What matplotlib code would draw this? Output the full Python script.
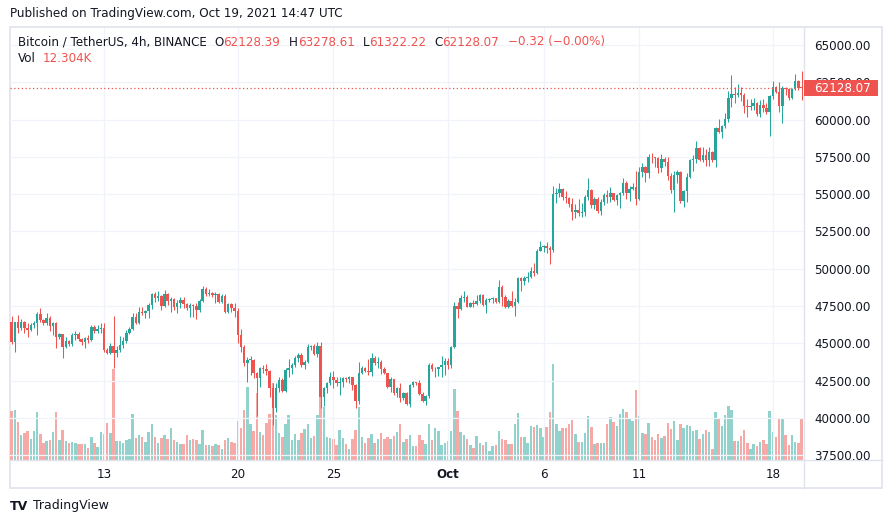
import matplotlib
matplotlib.use("Agg")
import matplotlib.pyplot as plt
import matplotlib.dates as mdates
from matplotlib.patches import Rectangle
from matplotlib.lines import Line2D
import pandas as pd

# Taille de la figure (pixels)
W, H = 892, 523

# Données : bougies 4h BTC/USDT, à partir du 8 sept. 2021 04:00 UTC
start = "2021-09-08 04:00"
first_open = 46404

closes = [
    45063, 46404, 46047, 46450, 46000, 45890, 46220, 46330, 46964, 46560,
    46337, 46670, 46150, 46337, 45398, 45622, 44772, 45152, 44950, 45555,
    45600, 45264, 45108, 45330, 45220, 46110, 45843, 45930, 46000, 44548,
    44370, 44840, 44325, 44550, 44884, 45152, 45711, 45957, 46784, 46382,
    47075, 47008, 47165, 47567, 48305, 48014, 48170, 47522, 48305, 47858,
    47950, 47410, 47724, 47900, 47634, 47343, 47567, 47500, 47232, 47858,
    48618, 48305, 48394, 48260, 48330, 47790, 48170, 47120, 47634, 47343,
    47187, 45555, 44772, 43699, 43870, 43900, 42983, 42648, 43319, 43270,
    43150, 41977, 40680, 41977, 42536, 41820, 43207, 43320, 43543, 44034,
    44213, 43543, 43766, 44772, 44817, 44280, 44817, 41418, 41977, 42357,
    42760, 42536, 42313, 42424, 42648, 42580, 42715, 42200, 41150, 42983,
    43363, 43163, 43073, 43990, 43654, 43770, 43251, 42983, 42089, 42581,
    41642, 42000, 41307, 41642, 40926, 42200, 42424, 42313, 41597, 41150,
    41485, 43543, 43251, 43300, 43400, 43543, 43810, 43541, 44727, 47500,
    47320, 48058, 48125, 47455, 47723, 47634, 47835, 48237, 47567, 47902,
    47946, 48013, 47790, 48796, 48125, 47410, 47835, 47500, 47745, 49400,
    49200, 49355, 49466, 49870, 49735, 51211, 51434, 51524, 51367, 51256,
    55012, 55057, 55325, 54788, 54720, 54340, 53827, 53938, 53760, 53827,
    54833, 55280, 54273, 54676, 53893, 54497, 54945, 54788, 55057, 54610,
    54945, 55100, 55727, 55100, 55325, 55500, 54654, 56510, 56800, 56398,
    57516, 57471, 57400, 56734, 57337, 57180, 56218, 55279, 56285, 56500,
    54563, 55212, 56173, 57291, 57336, 58074, 57291, 57627, 57291, 57850,
    57291, 59415, 59191, 59572, 60019, 61428, 61718, 61651, 61807, 61651,
    60913, 60824, 60913, 61137, 60377, 60980, 60757, 60533, 61584, 62165,
    61875, 60913, 62098, 62030, 61428, 62030, 62613, 62128.39, 62128.07,
]

highs = [
    46829, 46450, 46896, 46600, 46500, 46330, 46380, 46500, 47120, 47343,
    46600, 47008, 46800, 46450, 46400, 45700, 45650, 45450, 45200, 45670,
    45800, 45730, 45370, 45450, 45555, 46200, 46226, 46226, 46376, 46376,
    44660, 45000, 46829, 44800, 45487, 45440, 45890, 46110, 47050, 47000,
    47410, 47410, 47230, 47680, 48394, 48460, 48506, 48240, 48573, 48350,
    48130, 48020, 47900, 48130, 48130, 47720, 47680, 47640, 47680, 47950,
    48842, 48800, 48620, 48460, 48460, 48370, 48300, 48305, 47680, 47680,
    47680, 47340, 45990, 44880, 44100, 44150, 43920, 43090, 43390, 43540,
    43610, 43200, 42310, 42350, 42760, 42650, 43320, 43943, 43650, 44145,
    44370, 44325, 43900, 44930, 44884, 44930, 45108, 45108, 42090, 42424,
    43095, 43140, 42760, 42714, 42760, 42760, 42800, 42760, 42270, 43766,
    43475, 43430, 43923, 44324, 44145, 44057, 43878, 43430, 43000, 42760,
    42626, 42045, 42313, 41754, 41754, 42270, 42490, 42424, 42530, 41754,
    41530, 43654, 43700, 43430, 43430, 44145, 43990, 44000, 44850, 47791,
    47791, 48237, 48528, 48237, 47790, 47900, 48237, 48300, 48300, 48013,
    48013, 48080, 48058, 49243, 48900, 48237, 48000, 48528, 48014, 49466,
    49466, 49510, 49800, 50138, 50360, 51300, 51882, 51590, 51815, 51524,
    55549, 55420, 55772, 55400, 55235, 54833, 54721, 54340, 54654, 54385,
    54945, 56063, 55325, 54833, 54833, 54654, 55057, 55280, 55503, 55100,
    55012, 55170, 56063, 55906, 55550, 55727, 56577, 56800, 57069, 56890,
    57695, 57784, 57516, 57471, 57695, 57471, 57471, 56398, 56576, 56621,
    56576, 55279, 56397, 57336, 57626, 58588, 58140, 58140, 58000, 58140,
    57917, 59527, 60019, 59639, 60422, 61941, 62993, 62166, 62389, 62166,
    61807, 61360, 61360, 61428, 61204, 61316, 61360, 61092, 61651, 62613,
    62255, 62546, 62255, 62210, 62100, 62098, 63060, 62680, 63278.61,
]

lows = [
    44929, 44392, 45666, 45900, 45670, 45440, 45800, 46000, 45555, 46400,
    46200, 46200, 45800, 45555, 44660, 45300, 44034, 44660, 44800, 44840,
    45220, 45150, 44880, 44700, 44990, 45170, 45666, 45666, 45666, 44392,
    44300, 44300, 43319, 44100, 44400, 44700, 45000, 45600, 45890, 46270,
    46300, 46870, 46670, 46670, 47300, 47790, 47860, 47232, 47450, 47570,
    47120, 47232, 47008, 47340, 47340, 47230, 46740, 46740, 46660, 47120,
    47790, 48170, 48170, 48130, 47680, 47700, 47680, 47050, 47000, 47120,
    46780, 44996, 44436, 43500, 42424, 42870, 42648, 40121, 42090, 43000,
    42870, 41418, 39518, 40400, 41760, 41750, 41750, 42760, 42940, 43380,
    43766, 43380, 43250, 43650, 44550, 44230, 44100, 40635, 40800, 41640,
    42200, 41977, 42130, 41530, 42090, 42424, 42313, 41866, 40636, 40926,
    42940, 43095, 42870, 42800, 43540, 43320, 42940, 42920, 41977, 41754,
    41530, 41418, 41083, 41195, 40860, 40700, 42045, 42180, 41530, 41083,
    40860, 41307, 43140, 42760, 42800, 42760, 42870, 43250, 43318, 44650,
    46716, 47200, 47790, 47410, 47410, 47410, 47567, 47723, 47500, 47052,
    47790, 47723, 47723, 47723, 47500, 47343, 47343, 47410, 46850, 47680,
    48528, 48908, 49130, 49355, 49510, 49645, 51167, 51145, 51033, 50317,
    51145, 54430, 54833, 54609, 54385, 54162, 53268, 53380, 53536, 53500,
    53536, 54609, 54050, 53983, 53760, 53603, 54273, 54430, 54497, 54542,
    54273, 54050, 54945, 54654, 54564, 55280, 54273, 54600, 56130, 55840,
    56063, 57114, 56800, 56398, 56510, 56890, 55950, 55100, 53825, 55770,
    54429, 54116, 54496, 56061, 56576, 57112, 57246, 57180, 56889, 56889,
    57180, 56845, 59080, 58744, 59415, 59863, 60824, 61092, 61539, 61271,
    60422, 60153, 60645, 60645, 60243, 60198, 60533, 60377, 58900, 61360,
    61763, 60534, 59795, 61651, 61300, 61360, 61990, 61987, 61322.22,
]

# Volume en milliers de BTC
volumes = [
    14.7, 15.0, 11.4, 7.6, 8.1, 8.7, 6.3, 8.7, 14.4, 7.8,
    5.1, 5.7, 6.0, 8.4, 14.4, 6.0, 9.0, 5.7, 5.1, 5.4,
    5.1, 4.8, 4.8, 4.8, 3.6, 6.9, 5.1, 3.9, 8.4, 7.8,
    11.1, 8.1, 27.2, 5.7, 5.7, 5.1, 6.0, 6.3, 13.8, 6.6,
    7.5, 6.9, 5.4, 8.4, 10.8, 6.9, 5.1, 6.6, 7.5, 6.3,
    9.6, 6.0, 5.4, 4.8, 4.8, 7.5, 6.0, 6.3, 6.0, 4.8,
    9.0, 4.5, 4.5, 4.2, 4.8, 4.5, 3.3, 6.0, 6.6, 5.4,
    5.1, 11.7, 9.6, 15.0, 21.9, 10.8, 8.7, 20.0, 8.4, 7.5,
    11.1, 13.8, 23.0, 13.5, 8.1, 6.9, 10.8, 13.5, 6.0, 7.8,
    6.0, 8.1, 9.3, 10.8, 6.6, 7.2, 13.5, 20.0, 16.0, 6.9,
    6.6, 6.3, 4.5, 9.0, 6.6, 4.8, 3.3, 6.3, 9.0, 16.0,
    6.9, 5.1, 6.6, 7.8, 5.1, 6.3, 8.1, 6.3, 6.9, 6.3,
    7.2, 8.4, 10.8, 5.4, 6.3, 7.5, 4.2, 4.2, 7.5, 6.0,
    4.8, 10.8, 6.0, 9.6, 8.7, 4.5, 5.0, 5.7, 8.8, 21.3,
    14.8, 8.4, 7.5, 6.4, 4.5, 3.7, 7.2, 5.1, 4.5, 5.4,
    2.7, 4.2, 4.5, 8.7, 6.3, 6.0, 4.8, 4.8, 10.8, 14.1,
    6.9, 6.9, 5.1, 10.2, 9.9, 10.5, 9.6, 6.9, 9.9, 14.4,
    28.8, 10.8, 8.7, 9.6, 9.6, 10.8, 12.0, 7.8, 5.4, 5.4,
    8.1, 13.2, 9.9, 4.8, 5.1, 5.1, 5.1, 10.8, 12.9, 11.4,
    10.2, 13.8, 15.3, 14.4, 12.6, 11.7, 21.0, 13.2, 8.1, 7.8,
    11.1, 6.9, 6.0, 7.8, 6.6, 7.2, 11.1, 9.3, 11.7, 6.0,
    10.8, 9.6, 10.5, 10.2, 8.7, 9.0, 6.3, 7.8, 9.0, 8.4,
    3.3, 14.4, 12.3, 10.2, 13.5, 16.2, 15.0, 5.7, 5.7, 7.2,
    9.0, 5.1, 3.3, 4.8, 4.2, 5.4, 6.0, 4.8, 14.7, 8.4,
    6.9, 12.3, 12.6, 7.5, 4.5, 7.5, 5.4, 5.1, 12.304,
]

price_ticks = [37500, 40000, 42500, 45000, 47500, 50000, 52500,
               55000, 57500, 60000, 62500, 65000]
date_ticks = ["2021-09-13", "2021-09-20", "2021-09-25", "2021-10-01",
              "2021-10-06", "2021-10-11", "2021-10-18"]
date_labels = ["13", "20", "25", "Oct", "6", "11", "18"]

# Couleurs TradingView
UP = "#26a69a"
DOWN = "#ef5350"
UP_VOL = "#92d2cc"
DOWN_VOL = "#f7a9a7"
TXT = "#131722"
GRID = "#f0f3fa"
BORDER = "#e0e3eb"

times = pd.date_range(start, periods=len(closes), freq="4h")
xs = mdates.date2num(times)
opens = [first_open] + closes[:-1]
up = [c >= o for o, c in zip(opens, closes)]


def fx(x):
    return x / W


def fy(y):
    return 1 - y / H


# %% Figure
fig = plt.figure(figsize=(W / 100, H / 100), dpi=100)
fig.patch.set_facecolor("white")

rect = [fx(10), fy(460), fx(804) - fx(10), fy(28) - fy(460)]
axv = fig.add_axes(rect, zorder=1)
ax = fig.add_axes(rect, zorder=2, sharex=axv)
ax.patch.set_alpha(0)

# Echelle : 19.11 px par jour, 67.07 USD par px
x13 = mdates.date2num(pd.Timestamp("2021-09-13"))
ax.set_xlim(x13 - 94 / 19.11, x13 + 700 / 19.11)
ax.set_ylim(37171, 66145)
axv.set_ylim(0, 432 * 0.3)
axv.set_axis_off()

# Grille
for p in price_ticks:
    ax.axhline(p, color=GRID, lw=0.9, zorder=0)
for d in date_ticks:
    ax.axvline(mdates.date2num(pd.Timestamp(d)), color=GRID, lw=0.9, zorder=0)

# Volume
axv.bar(xs, volumes, width=0.13, color=[UP_VOL if u else DOWN_VOL for u in up],
        linewidth=0)

# Bougies
colors = [UP if u else DOWN for u in up]
ax.vlines(xs, lows, highs, colors=colors, linewidth=0.75, zorder=3)
bottoms = [min(o, c) for o, c in zip(opens, closes)]
heights = [max(abs(c - o), 50) for o, c in zip(opens, closes)]
ax.bar(xs, heights, bottom=bottoms, width=0.13, color=colors, linewidth=0, zorder=4)

# Ligne du dernier prix
last = closes[-1]
ax.axhline(last, color=DOWN, lw=0.9, ls=(0, (1, 2)), zorder=5)

# Axes
for s in ax.spines.values():
    s.set_visible(False)
ax.yaxis.tick_right()
ax.set_yticks(price_ticks)
ax.set_yticklabels([f"{p:.2f}" for p in price_ticks])
ax.tick_params(axis="y", length=0, pad=7.2, labelsize=8.6, labelcolor=TXT)
ax.set_xticks([mdates.date2num(pd.Timestamp(d)) for d in date_ticks])
ax.set_xticklabels(date_labels)
ax.tick_params(axis="x", length=0, pad=5.5, labelsize=8.6, labelcolor=TXT)
for lab in ax.get_xticklabels():
    if lab.get_text() == "Oct":
        lab.set_fontweight("bold")

# Cadre
fig.add_artist(Rectangle((fx(10), fy(488)), fx(882) - fx(10), fy(27) - fy(488),
                         transform=fig.transFigure, fill=False, edgecolor=BORDER,
                         lw=1.2, zorder=0))
fig.add_artist(Line2D([fx(804), fx(804)], [fy(488), fy(27)], color=BORDER, lw=1))
fig.add_artist(Line2D([fx(10), fx(882)], [fy(460), fy(460)], color=BORDER, lw=1))

# Etiquette du dernier prix
fig.add_artist(Rectangle((fx(804), fy(96)), fx(878) - fx(804), fy(80) - fy(96),
                         transform=fig.transFigure, facecolor=DOWN, edgecolor="none",
                         zorder=10))
fig.text(fx(814), fy(88), f"{last:.2f}", color="white", fontsize=8.6,
         va="center", ha="left", zorder=11)

# Textes
fig.text(fx(10), fy(14), "Published on TradingView.com, Oct 19, 2021 14:47 UTC",
         fontsize=8.65, color=TXT, va="center")

renderer = fig.canvas.get_renderer()


def ligne(pieces, x, y, size=8.6):
    # pieces : (texte, couleur, espace avant en px)
    for t, c, gap in pieces:
        x += gap
        txt = fig.text(fx(x), fy(y), t, fontsize=size, color=c, va="center")
        x += txt.get_window_extent(renderer).width


ligne([("Bitcoin / TetherUS, 4h, BINANCE", TXT, 0),
       ("O", TXT, 7.5), ("62128.39", DOWN, 0),
       ("H", TXT, 8.5), ("63278.61", DOWN, 0),
       ("L", TXT, 8), ("61322.22", DOWN, 0),
       ("C", TXT, 8), ("62128.07", DOWN, 0),
       ("\u22120.32 (\u22120.00%)", DOWN, 9)], 18, 42)
ligne([("Vol", TXT, 0), ("12.304K", DOWN, 7)], 18, 59)

# Pied de page
fig.text(fx(10), fy(506), "TV", fontsize=9, fontweight="bold", color=TXT, va="center")
fig.text(fx(33), fy(506), "TradingView", fontsize=9, color=TXT, va="center")

fig.savefig("out.png", dpi=100)
